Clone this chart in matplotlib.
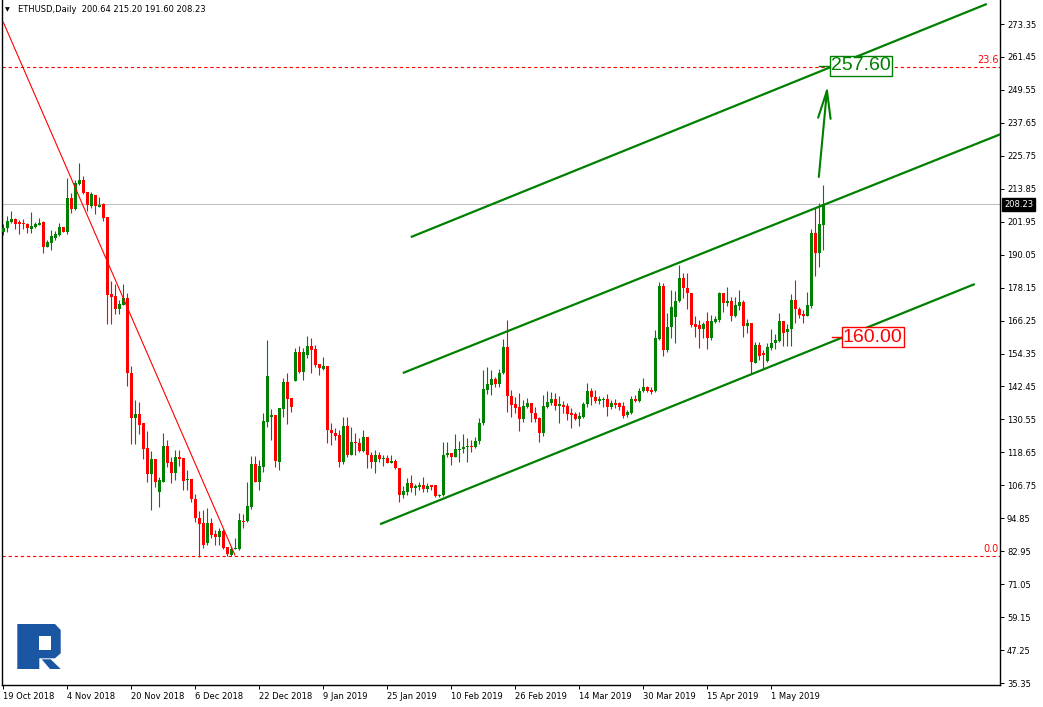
import numpy as np
import matplotlib
matplotlib.use("Agg")
import matplotlib.pyplot as plt
from matplotlib.patches import Polygon
from matplotlib.transforms import blended_transform_factory

# ETHUSD daily candles, 19 Oct 2018 .. 14 May 2019
opens = [198.4, 199.6, 201.85, 203.0, 201.7, 201.4, 201.25, 199.4, 200.0, 200.9,
         201.85, 192.9, 194.4, 196.0, 197.2, 200.0, 198.1, 210.5, 206.4, 215.5,
         217.0, 212.7, 207.6, 211.6, 207.3, 208.2, 203.7, 175.7, 175.1, 170.5,
         171.8, 174.3, 147.2, 131.2, 132.5, 129.1, 120.2, 110.7, 116.2, 104.2,
         108.1, 120.9, 115.2, 111.3, 116.9, 116.5, 108.5, 109.0, 101.8, 95.0,
         93.0, 85.8, 93.0, 89.2, 88.0, 90.2, 84.6, 81.7, 83.6, 83.7,
         94.0, 93.8, 99.0, 114.4, 108.1, 113.5, 129.7, 131.5, 132.1, 115.3,
         134.4, 144.2, 138.2, 144.4, 154.8, 147.8, 153.8, 157.1, 156.0, 150.6,
         148.7, 149.8, 126.9, 125.7, 124.9, 115.3, 128.2, 117.7, 122.5, 122.1,
         119.3, 124.3, 117.7, 115.3, 117.7, 116.4, 116.7, 114.9, 115.6, 113.1,
         103.2, 104.4, 107.5, 105.9, 106.3, 106.9, 105.3, 106.9, 106.9, 103.0,
         103.2, 117.7, 118.5, 117.1, 119.5, 119.7, 120.6, 120.7, 120.5, 122.7,
         129.1, 141.2, 143.0, 145.1, 143.3, 147.2, 156.6, 139.0, 136.0, 135.1,
         130.7, 135.1, 136.3, 132.7, 130.9, 125.5, 135.1, 136.6, 137.8, 135.5,
         135.7, 135.5, 132.7, 132.5, 130.7, 131.5, 136.0, 140.8, 138.8, 137.3,
         137.4, 137.9, 135.1, 136.3, 136.3, 135.5, 132.1, 132.7, 137.9, 137.2,
         140.8, 142.4, 141.2, 140.8, 159.6, 178.8, 155.6, 164.0, 167.6, 173.4,
         181.5, 177.9, 176.3, 165.0, 164.6, 163.1, 166.1, 160.1, 165.8, 166.4,
         176.1, 172.7, 173.3, 168.0, 171.6, 173.1, 164.4, 165.2, 151.0, 157.6,
         154.6, 151.6, 156.4, 158.0, 159.0, 166.1, 162.0, 163.1, 173.7, 170.3,
         168.6, 168.0, 171.6, 198.0, 190.5, 200.64]
highs = [201.2, 204.0, 205.8, 203.4, 202.5, 202.8, 201.6, 205.5, 201.8, 203.3,
         202.2, 195.2, 199.0, 198.6, 201.5, 200.0, 217.9, 212.4, 216.9, 223.2,
         218.5, 212.7, 212.6, 211.6, 210.9, 208.8, 203.7, 180.5, 179.3, 173.6,
         179.3, 176.1, 149.8, 137.6, 136.8, 129.1, 126.3, 119.1, 116.2, 109.6,
         125.7, 123.1, 117.1, 119.5, 119.5, 116.5, 112.3, 109.2, 103.5, 97.4,
         97.8, 98.7, 94.8, 90.6, 91.4, 90.8, 84.6, 84.6, 87.6, 96.8,
         96.4, 107.8, 117.3, 117.3, 115.9, 133.0, 159.2, 134.2, 132.1, 134.8,
         145.4, 147.4, 138.2, 156.2, 157.1, 156.2, 160.7, 159.8, 157.4, 150.6,
         153.2, 149.8, 129.1, 127.3, 126.7, 131.5, 131.5, 127.9, 125.5, 123.7,
         126.7, 124.3, 118.9, 119.5, 118.9, 117.7, 117.7, 117.7, 116.1, 113.1,
         106.5, 109.5, 110.5, 107.1, 107.8, 109.9, 107.5, 106.9, 106.9, 103.6,
         122.5, 122.5, 118.5, 125.3, 122.9, 125.3, 123.9, 123.1, 124.3, 130.9,
         148.4, 149.4, 148.4, 146.0, 148.6, 159.5, 166.4, 141.2, 138.8, 140.0,
         137.6, 138.2, 136.3, 135.1, 131.5, 139.4, 140.9, 140.6, 140.0, 139.0,
         137.3, 136.6, 134.5, 133.3, 133.3, 137.0, 143.6, 141.8, 141.2, 139.0,
         138.8, 139.6, 137.5, 137.8, 137.0, 137.0, 133.9, 139.0, 139.4, 141.8,
         145.6, 142.6, 142.4, 162.8, 180.3, 179.7, 168.9, 177.3, 177.0, 186.3,
         183.5, 183.3, 176.3, 167.9, 166.4, 165.8, 169.5, 168.2, 168.0, 176.7,
         176.3, 178.5, 174.6, 174.6, 177.3, 173.7, 166.7, 165.2, 158.4, 158.6,
         155.6, 158.2, 163.1, 161.3, 169.1, 166.1, 164.9, 175.8, 180.9, 171.3,
         170.0, 176.4, 199.2, 206.8, 208.6, 215.20]
lows = [197.2, 198.4, 201.6, 199.3, 197.6, 199.3, 198.0, 197.9, 199.6, 200.9,
        190.8, 192.9, 191.6, 195.2, 196.8, 198.4, 197.6, 205.1, 206.1, 215.3,
        211.8, 205.8, 206.8, 204.6, 207.3, 202.2, 164.9, 164.9, 168.7, 168.7,
        171.8, 142.6, 121.5, 121.5, 125.3, 116.2, 107.8, 97.8, 106.0, 99.0,
        107.8, 113.2, 107.7, 108.7, 113.7, 105.0, 105.0, 100.8, 93.6, 81.0,
        84.0, 85.2, 87.6, 85.1, 85.2, 83.6, 81.3, 81.2, 83.6, 83.4,
        91.2, 93.6, 98.2, 108.1, 105.0, 111.7, 127.9, 123.1, 113.2, 112.3,
        131.5, 128.9, 133.3, 144.4, 147.2, 144.8, 152.6, 147.2, 149.6, 146.6,
        148.4, 121.9, 121.3, 123.1, 113.5, 114.4, 116.8, 117.7, 117.7, 118.9,
        118.9, 112.9, 112.9, 111.1, 115.3, 113.7, 114.7, 114.9, 112.5, 100.8,
        102.0, 103.2, 104.4, 103.2, 105.0, 104.4, 104.4, 105.0, 102.6, 102.6,
        102.9, 117.1, 114.1, 117.1, 115.3, 118.3, 115.3, 118.9, 120.1, 121.5,
        128.5, 139.7, 139.4, 142.1, 142.1, 146.9, 133.3, 131.3, 132.7, 126.5,
        129.7, 134.6, 129.7, 129.7, 122.5, 124.6, 134.6, 135.7, 134.0, 129.4,
        132.7, 130.3, 127.6, 130.3, 128.3, 130.9, 135.1, 135.7, 136.3, 136.1,
        135.2, 131.8, 134.2, 134.5, 133.9, 130.9, 131.5, 132.4, 137.0, 137.0,
        140.6, 140.3, 139.9, 140.6, 159.2, 153.6, 155.0, 159.8, 158.0, 173.1,
        174.3, 170.3, 164.0, 160.4, 156.2, 159.8, 156.0, 159.2, 165.5, 165.6,
        169.5, 171.5, 166.2, 167.6, 170.1, 160.4, 161.6, 146.9, 150.8, 152.0,
        148.7, 151.4, 155.6, 155.8, 158.6, 157.2, 157.2, 157.2, 165.2, 167.0,
        165.5, 168.0, 170.7, 182.3, 185.5, 191.60]
closes = [199.6, 202.2, 202.8, 201.25, 201.0, 201.0, 199.6, 200.4, 201.1, 201.6,
          192.9, 194.6, 196.8, 197.6, 199.9, 198.4, 210.5, 206.7, 215.9, 217.0,
          212.4, 207.9, 212.1, 207.5, 208.0, 203.4, 175.5, 174.9, 170.5, 172.1,
          174.3, 147.2, 131.2, 132.5, 128.6, 119.8, 110.7, 116.2, 107.8, 108.6,
          120.9, 114.9, 111.3, 116.9, 116.2, 108.4, 109.0, 101.7, 95.0, 92.8,
          85.3, 93.0, 88.8, 88.0, 90.2, 84.2, 81.8, 83.6, 84.2, 94.2,
          93.6, 99.3, 114.4, 108.1, 113.8, 130.0, 146.2, 132.1, 115.6, 134.8,
          144.2, 137.9, 135.1, 154.8, 147.8, 154.8, 157.1, 155.6, 150.2, 149.0,
          149.8, 126.9, 125.5, 124.7, 115.3, 128.2, 117.7, 122.5, 121.9, 119.3,
          124.3, 117.7, 115.3, 117.7, 116.3, 116.7, 114.9, 115.6, 112.9, 103.2,
          104.7, 107.5, 105.6, 106.5, 106.9, 105.3, 106.6, 106.3, 103.0, 103.3,
          117.7, 118.5, 117.1, 119.7, 120.0, 120.7, 120.8, 120.5, 122.7, 129.1,
          141.5, 143.3, 145.1, 143.3, 147.4, 156.6, 139.0, 135.7, 134.6, 130.7,
          135.4, 136.3, 132.7, 130.6, 125.5, 135.4, 136.9, 137.8, 135.4, 136.0,
          135.1, 132.5, 132.1, 130.6, 131.9, 136.1, 140.8, 138.8, 137.2, 137.9,
          138.0, 135.1, 136.3, 135.7, 135.1, 131.8, 133.1, 137.8, 137.2, 140.8,
          142.4, 140.8, 140.3, 159.8, 178.8, 155.6, 164.0, 171.0, 173.4, 181.5,
          177.9, 176.1, 164.6, 164.0, 163.1, 165.0, 160.1, 166.1, 166.8, 176.1,
          172.7, 173.3, 168.0, 171.9, 172.8, 164.4, 165.2, 151.3, 157.6, 153.4,
          153.7, 156.8, 158.2, 159.2, 166.1, 161.9, 163.2, 173.7, 170.3, 168.2,
          168.0, 171.9, 198.0, 190.5, 201.1, 208.23]

date_labels = ["19 Oct 2018", "4 Nov 2018", "20 Nov 2018", "6 Dec 2018",
               "22 Dec 2018", "9 Jan 2019", "25 Jan 2019", "10 Feb 2019",
               "26 Feb 2019", "14 Mar 2019", "30 Mar 2019", "15 Apr 2019",
               "1 May 2019"]
price_ticks = [35.35, 47.25, 59.15, 71.05, 82.95, 94.85, 106.75, 118.65, 130.55,
               142.45, 154.35, 166.25, 178.15, 190.05, 201.95, 213.85, 225.75,
               237.65, 249.55, 261.45, 273.35]

# drawn objects (bar index, price)
channel_low = ([94.2, 242.9], [92.7, 179.45])
channel_mid = ([99.9, 252.0], [147.3, 235.1])
channel_up = ([101.9, 245.9], [196.4, 280.6])
down_trend = ([0.0, 57.9], [274.0, 81.6])
fib_levels = [258.0, 81.25]
fib_names = ["23.6", "0.0"]
last_price = 208.23
target_up = 257.60
support = 160.00

GREEN = "#008000"
RED = "#ff0000"

W, H = 1043, 707
fig = plt.figure(figsize=(W / 100, H / 100), dpi=100)
ax = fig.add_axes([2 / W, 22 / H, 998 / W, 685 / H])
ax.set_xlim(-0.325, 249.2)
ax.set_ylim(34.63, 282.02)

# fibo + last price lines
for lvl, name in zip(fib_levels, fib_names):
    ax.axhline(lvl, color=RED, lw=0.8, ls=(0, (3, 2.5)), zorder=1)
    ax.text(248.9, lvl + 0.6, name, color=RED, fontsize=7, ha="right", va="bottom")
ax.axhline(last_price, color="#c0c0c0", lw=0.8, zorder=1)

# candles
idx = np.arange(len(closes))
o = np.array(opens)
c = np.array(closes)
colors = np.where(c >= o, GREEN, RED)
ax.vlines(idx, lows, highs, colors=colors, lw=0.8, zorder=2)
ax.bar(idx, np.maximum(np.abs(c - o), 0.35), width=0.75, bottom=np.minimum(o, c),
       color=colors, linewidth=0, zorder=3)

# trend lines
ax.plot(*down_trend, color=RED, lw=0.8, zorder=4)
for ln in (channel_low, channel_mid, channel_up):
    ax.plot(*ln, color=GREEN, lw=1.6, zorder=4, solid_capstyle="butt")

# arrow and price labels
ax.annotate("", xy=(206.05, 251.0), xytext=(203.9, 218.1),
            arrowprops=dict(arrowstyle="->,head_length=2.0,head_width=0.45",
                            color=GREEN, lw=1.5, shrinkA=0, shrinkB=0), zorder=5)
ax.plot([203.9, 206.7], [258.2, 258.2], color=GREEN, lw=1, zorder=5)
ax.text(214.4, 258.2, f"{target_up:.2f}", color=GREEN, fontsize=14,
        family="Liberation Sans", ha="center", va="center", zorder=6,
        bbox=dict(boxstyle="square,pad=0.07", fc="white", ec=GREEN, lw=1))
ax.plot([207.2, 209.7], [160.3, 160.3], color=RED, lw=1, zorder=5)
ax.text(217.4, 160.3, f"{support:.2f}", color=RED, fontsize=14,
        family="Liberation Sans", ha="center", va="center", zorder=6,
        bbox=dict(boxstyle="square,pad=0.07", fc="white", ec=RED, lw=1))

# axes styling
ax.spines["top"].set_visible(False)
for s in ("left", "right", "bottom"):
    ax.spines[s].set_linewidth(1.0)
ax.yaxis.tick_right()
ax.set_yticks(price_ticks)
ax.set_yticklabels([f"{p:.2f}" for p in price_ticks])
ax.set_xticks(np.arange(len(date_labels)) * 16)
ax.set_xticklabels(date_labels)
for lbl in ax.get_xticklabels():
    lbl.set_ha("left")
ax.tick_params(axis="both", length=3, width=0.7, pad=2, labelsize=6)

tr = blended_transform_factory(ax.transAxes, ax.transData)
ax.text(1.004, last_price, f"{last_price:.2f}", transform=tr, color="white",
        fontsize=6, ha="left", va="center", clip_on=False, zorder=7,
        bbox=dict(boxstyle="square,pad=0.25", fc="black", ec="black"))

# header
fig.text(5 / W, 1 - 10 / H, "\u25bc", fontsize=4.5, va="center", ha="left")
fig.text(18 / W, 1 - 10 / H, "ETHUSD,Daily  200.64 215.20 191.60 208.23",
         fontsize=6, va="center", ha="left")

# logo
def px(pts):
    return [(x / W, 1 - y / H) for x, y in pts]

logo_blue = "#1b56a3"
fig.patches.append(Polygon(px([(17.3, 624), (55, 624), (60.7, 630), (60.7, 653.3),
                               (55, 658.3), (39.3, 658.3), (39.3, 669), (17.3, 669)]),
                           closed=True, fc=logo_blue, ec="none", transform=fig.transFigure))
fig.patches.append(Polygon(px([(39.3, 636), (50.7, 636), (50.7, 650), (39.3, 650)]),
                           closed=True, fc="white", ec="none", transform=fig.transFigure))
fig.patches.append(Polygon(px([(41.7, 659.3), (50.7, 659.3), (60.7, 669), (50, 669)]),
                           closed=True, fc=logo_blue, ec="none", transform=fig.transFigure))

fig.savefig("out.png", dpi=100, facecolor="white")
